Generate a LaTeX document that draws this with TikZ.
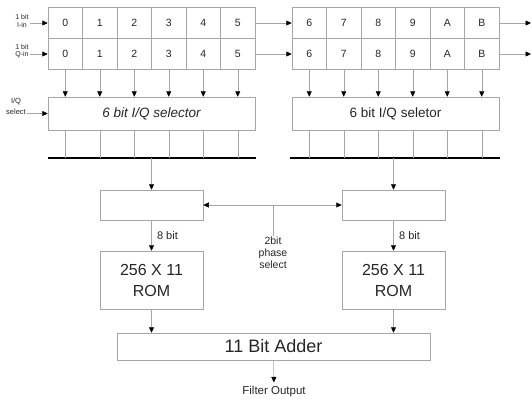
\documentclass[tikz,border=0pt]{standalone}
\usepackage{fontspec}
\setmainfont{Liberation Sans}
\usetikzlibrary{arrows.meta}
\begin{document}
\begin{tikzpicture}[x=1pt,y=-1pt,
  line/.style={draw=black!35,line width=0.5pt},
  arr/.style={line,-{Triangle[length=5.5pt,width=5pt,color=black]}},
  cell/.style={line,minimum width=34.5pt,minimum height=31pt,inner sep=0pt,text=black!85,font=\fontsize{10.5}{11}\selectfont},
  blk/.style={line,inner sep=0pt,align=center,text=black!85},
  bus/.style={draw=black,line width=2pt},
  lab/.style={align=center,inner sep=1pt,text=black!85},
]
\useasboundingbox (0,0) rectangle (532,402);

% shift registers
\foreach \t [count=\k from 0] in {0,1,2,3,4,5,6,7,8,9,A,B}{
  \pgfmathsetmacro\xx{\k<6 ? 65.25+34.5*\k : 309.25+34.5*(\k-6)}
  \node[cell] (i\k) at (\xx,23) {\t};
  \node[cell] (q\k) at (\xx,54) {\t};
}

\node[lab,font=\fontsize{7}{7.5}\selectfont] (iin) at (22,21) {1 bit\\I-in};
\node[lab,font=\fontsize{7}{7.5}\selectfont] (qin) at (22,51) {1 bit\\Q-in};
\draw[arr] (iin.east |- i0.west) -- (i0.west);
\draw[arr] (qin.east |- q0.west) -- (q0.west);
\draw[arr] (i5.east) -- (i6.west);
\draw[arr] (q5.east) -- (q6.west);
\coordinate (io) at (531,23);
\coordinate (qo) at (531,54);
\draw[arr] (i11.east) -- (io);
\draw[arr] (q11.east) -- (qo);

% selectors
\node[blk,minimum width=207pt,minimum height=33pt,font=\itshape\fontsize{13.5}{14}\selectfont] (lsel) at (151.5,113.5) {6 bit I/Q selector};
\node[blk,minimum width=207pt,minimum height=33pt,font=\fontsize{13.5}{14}\selectfont] (rsel) at (395.5,113.5) {6 bit I/Q seletor};
\foreach \k in {0,...,5} \draw[arr] (q\k.south) -- (q\k.south |- lsel.north);
\foreach \k in {6,...,11} \draw[arr] (q\k.south) -- (q\k.south |- rsel.north);

\node[lab,font=\fontsize{7.5}{11}\selectfont] (iqs) at (16,106) {I/Q\\select};
\draw[arr] (iqs.east |- lsel.west) -- (lsel.west);

% buses
\coordinate (lb1) at (48,158);
\coordinate (lb2) at (256,158);
\coordinate (rb1) at (290,158);
\coordinate (rb2) at (500,158);
\draw[bus] (lb1) -- (lb2);
\draw[bus] (rb1) -- (rb2);
\foreach \k in {0,...,5} \draw[line] (q\k |- lsel.south) -- (q\k |- lb1);
\foreach \k in {6,...,11} \draw[line] (q\k |- rsel.south) -- (q\k |- rb1);

% address boxes
\node[blk,minimum width=103pt,minimum height=30pt] (ladr) at (151.5,205) {};
\node[blk,minimum width=103pt,minimum height=30pt] (radr) at (393.5,205) {};
\draw[arr] (ladr.north |- lb1) -- (ladr.north);
\draw[arr] (radr.north |- rb1) -- (radr.north);

% phase select
\node[lab,font=\fontsize{10.5}{12}\selectfont] (phase) at (273,253) {2bit\\phase\\select};
\coordinate (ph) at (273,205);
\draw[line] (phase.north) -- (ph);
\draw[arr] (ph) -- (ladr.east);
\draw[arr] (ph) -- (radr.west);

% ROMs
\node[blk,minimum width=103pt,minimum height=58pt,font=\fontsize{16}{21}\selectfont] (lrom) at (151.5,280) {256 X 11\\ROM};
\node[blk,minimum width=103pt,minimum height=58pt,font=\fontsize{16}{21}\selectfont] (rrom) at (393.5,280) {256 X 11\\ROM};
\draw[arr] (ladr.south) -- node[right=2pt,text=black!85,font=\fontsize{11}{11}\selectfont] {8 bit} (lrom.north);
\draw[arr] (radr.south) -- node[right=2pt,text=black!85,font=\fontsize{11}{11}\selectfont] {8 bit} (rrom.north);

% adder
\node[blk,minimum width=313pt,minimum height=27pt,font=\fontsize{18}{18}\selectfont] (add) at (273.5,346.5) {11 Bit Adder};
\draw[arr] (lrom.south) -- (lrom.south |- add.north);
\draw[arr] (rrom.south) -- (rrom.south |- add.north);

\node[lab,font=\fontsize{11.5}{12}\selectfont] (out) at (274,392) {Filter Output};
\draw[arr,shorten >=3pt] (add.south) -- (out.north);
\end{tikzpicture}
\end{document}
